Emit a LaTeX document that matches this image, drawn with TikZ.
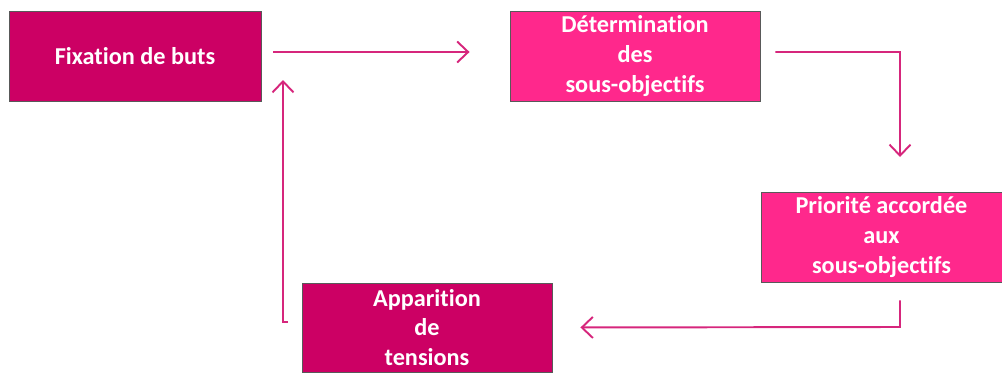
\documentclass[tikz,border=0pt]{standalone}
\usepackage{fontspec}
\setmainfont{Carlito}[Ligatures={NoCommon}]
\usetikzlibrary{arrows.meta}
\definecolor{darkpink}{RGB}{204,0,100}
\definecolor{lightpink}{RGB}{255,40,140}
\definecolor{arrowpink}{RGB}{214,38,124}
\begin{document}
\begin{tikzpicture}[
			>={Straight Barb[length=2.2mm,width=4.2mm]},
			every node/.style = {font=\fontsize{13.8}{17}\selectfont\bfseries, text=white, align=center},
			stagebox/.style   = {draw=black!65, line width=0.5pt, inner sep=0pt},
			flow/.style       = {->, draw=arrowpink, line width=1.1pt}
			]
			\useasboundingbox (0,0) rectangle (20.04,7.44);
			%--- nodes and their positions ---
			\node[stagebox, fill=darkpink, minimum width=5.04cm, minimum height=1.8cm] (fix) at (2.70,6.32) {Fixation de buts};
			\node[stagebox, fill=lightpink, minimum width=5.0cm, minimum height=1.8cm] (det) at (12.70,6.32) {Détermination\\des\\sous-objectifs};
			
			\node[stagebox, fill=lightpink, minimum width=4.82cm, minimum height=1.8cm] (prio) at (17.63,2.70) {Priorité accordée\\aux\\sous-objectifs};
			\node[stagebox, fill=darkpink, minimum width=5.0cm, minimum height=1.78cm] (app) at (8.54,0.89) {Apparition\\de\\tensions};
			
			%--- corners of the connectors ---
			\coordinate (c1) at (18.00,6.40);
			\coordinate (c2) at (18.00,4.30);
			\coordinate (c3) at (18.00,0.90);
			\coordinate (c4) at (5.76,1.00);
			\coordinate (c5) at (5.66,1.00);
			\coordinate (c6) at (5.66,5.84);
			
			%--- cycle (arrows) ---
			\draw[flow, shorten <=2.4mm, shorten >=8mm] ([yshift=0.8mm]fix.east) -- ([yshift=0.8mm]det.west);
			\draw[flow, shorten <=3mm] ([yshift=0.8mm]det.east) -- (c1) -- (c2);
			\draw[flow, shorten <=3.6mm, shorten >=5.6mm] ([xshift=3.7mm]prio.south) -- (c3) -- (app.east);
			\draw[flow] (c4) -- (c5) -- (c6);
		\end{tikzpicture}
\end{document}
